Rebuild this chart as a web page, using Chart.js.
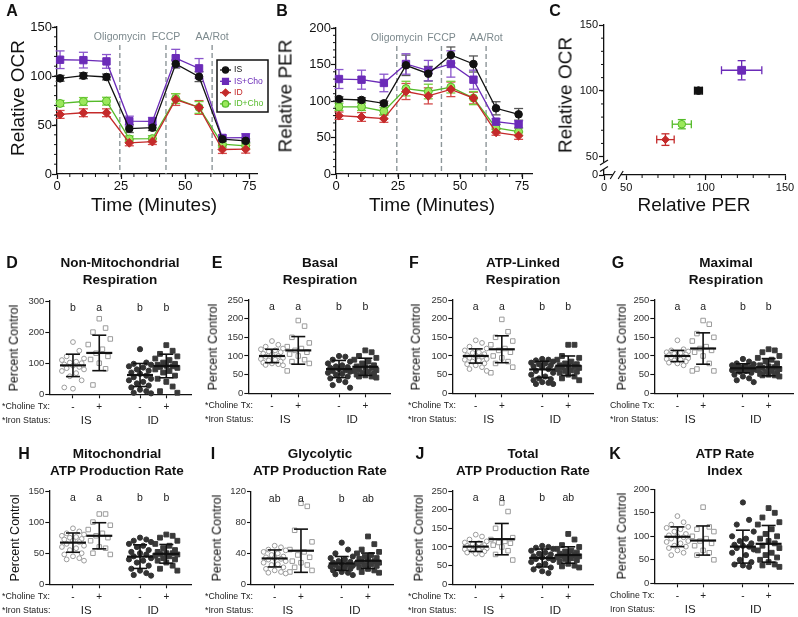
<!DOCTYPE html>
<html>
<head>
<meta charset="utf-8">
<title>Choline and iron status - respiration</title>
<script src="https://cdn.jsdelivr.net/npm/chart.js@4.4.1/dist/chart.umd.min.js"></script>
<style>
  body { margin: 0; width: 798px; height: 617px; position: relative; overflow: hidden; background: #fff;
         font-family: "Liberation Sans", Arial, sans-serif; color: #111; }
  canvas { position: absolute; }
  .txt { position: absolute; white-space: nowrap; transform: translate(-50%, -50%); line-height: 1; }
  .rot { transform: translate(-50%, -50%) rotate(-90deg); }
  .panel { font-weight: bold; font-size: 16px; }
  .title { font-weight: bold; font-size: 13.5px; }
</style>
</head>
<body>
<script>
// ---- A / B: time course
const timeMin = [1.2, 10.3, 19.3, 28.2, 37.2, 46.3, 55.4, 64.5, 73.6];
const injectionTimes = [24.5, 42.5, 60.5];
const injectionNames = ['Oligomycin', 'FCCP', 'AA/Rot'];
const groupNames = ['IS', 'IS+Cho', 'ID', 'ID+Cho'];

const ocrIS = [97.6, 100.3, 99.0, 46.3, 47.3, 112.2, 99.3, 35.5, 33.8];
const ocrISCho = [116.6, 116.2, 114.9, 54.0, 53.7, 118.2, 107.8, 36.8, 37.2];
const ocrID = [60.8, 62.5, 62.5, 31.8, 33.1, 76.0, 67.9, 25.0, 25.3];
const ocrIDCho = [72.0, 74.0, 74.3, 35.8, 36.1, 77.0, 67.9, 30.4, 28.7];
const ocrISErr = [3, 3, 3, 4, 3, 4, 5, 2, 2];
const ocrISChoErr = [9, 8, 7, 5, 4, 9, 10, 3, 4];
const ocrIDErr = [4, 4, 4, 3, 3, 6, 7, 4, 4];
const ocrIDChoErr = [3, 4, 4, 3, 3, 5, 6, 3, 3];

const perIS = [102.7, 101.4, 96.8, 148.9, 137.4, 163.0, 150.7, 90.0, 81.7];
const perISCho = [130.1, 129.2, 124.7, 150.7, 141.6, 150.7, 129.2, 71.7, 68.0];
const perID = [79.9, 78.1, 75.8, 113.0, 107.0, 116.0, 104.0, 57.1, 52.5];
const perIDCho = [92.0, 92.0, 86.0, 117.0, 113.0, 119.0, 104.0, 63.0, 58.0];
const perISErr = [3, 3, 3, 14, 10, 11, 11, 9, 8];
const perISChoErr = [13, 13, 12, 14, 14, 18, 13, 4, 5];
const perIDErr = [5, 6, 5, 11, 11, 10, 8, 4, 5];
const perIDChoErr = [5, 5, 5, 10, 10, 8, 9, 5, 5];

// ---- C: OCR vs PER (order IS, IS+Cho, ID, ID+Cho)
const ratioPER = [95.5, 122.7, 74.7, 85.0];
const ratioOCR = [100.1, 115.6, 62.9, 74.6];
const ratioPERErr = [2.5, 12.7, 5.5, 6.0];
const ratioOCRErr = [2.5, 7.3, 4.4, 3.5];

// ---- D-K: percent control, individual wells per group (IS, IS+Cho, ID, ID+Cho)
const nonMitoPoints = [
  [168, 140, 122, 115, 110, 105, 102, 100, 96, 92, 88, 84, 80, 75, 68, 58, 45, 22, 18],
  [243, 213, 200, 178, 160, 145, 132, 122, 112, 100, 82, 30],
  [145, 102, 98, 95, 90, 86, 80, 76, 70, 66, 60, 55, 50, 45, 40, 35, 28, 22, 15, 10, 5, 3],
  [158, 140, 130, 122, 115, 110, 102, 98, 95, 92, 90, 88, 85, 80, 75, 70, 60, 50, 40, 25, 10, 5],
];
const nonMitoMean = [93, 133, 62, 91];
const nonMitoSD = [36, 57, 37, 38];
const nonMitoLetters = ['b', 'a', 'b', 'b'];

const basalPoints = [
  [140, 130, 125, 120, 118, 115, 112, 110, 106, 103, 100, 98, 95, 92, 90, 88, 85, 82, 80, 78, 76, 75],
  [195, 180, 150, 135, 125, 120, 115, 110, 105, 100, 90, 85, 80, 60],
  [100, 98, 90, 85, 80, 75, 72, 70, 68, 65, 62, 60, 58, 55, 52, 50, 45, 40, 35, 30, 22, 15],
  [115, 110, 100, 95, 90, 85, 80, 75, 72, 70, 68, 65, 62, 60, 58, 55, 52, 50, 48, 45, 45, 42],
];
const basalMean = [100, 115, 65, 71];
const basalSD = [18, 37, 23, 23];
const basalLetters = ['a', 'a', 'b', 'b'];

const atpLinkedPoints = [
  [142, 135, 125, 120, 115, 110, 108, 105, 102, 100, 98, 95, 92, 90, 88, 85, 80, 78, 75, 70, 65, 60],
  [198, 165, 150, 140, 130, 120, 115, 110, 100, 95, 85, 80, 70, 55],
  [92, 90, 88, 85, 82, 80, 78, 75, 72, 70, 65, 60, 55, 50, 45, 40, 38, 35, 30, 28, 25, 25],
  [130, 130, 100, 95, 90, 85, 80, 78, 75, 73, 72, 70, 68, 65, 62, 60, 58, 55, 50, 45, 40, 35],
];
const atpLinkedMean = [100, 118, 64, 74];
const atpLinkedSD = [19, 36, 22, 26];
const atpLinkedLetters = ['a', 'a', 'b', 'b'];

const maximalPoints = [
  [142, 118, 115, 112, 110, 108, 106, 104, 102, 100, 98, 96, 94, 92, 90, 88, 85, 82, 80, 75],
  [195, 185, 160, 150, 140, 125, 120, 115, 110, 100, 80, 65, 60, 60],
  [92, 85, 80, 78, 75, 72, 70, 70, 68, 67, 66, 65, 64, 62, 60, 58, 55, 50, 45, 40, 35, 30],
  [118, 115, 110, 100, 95, 90, 85, 80, 75, 72, 70, 68, 65, 62, 60, 58, 55, 52, 50, 48, 48, 45],
];
const maximalMean = [100, 120, 67, 70];
const maximalSD = [15, 42, 12, 23];
const maximalLetters = ['a', 'a', 'b', 'b'];

const mitoAtpPoints = [
  [90, 85, 82, 80, 78, 76, 75, 73, 72, 70, 68, 65, 62, 60, 58, 55, 50, 48, 45, 42, 40, 38],
  [113, 113, 100, 95, 88, 82, 78, 75, 70, 60, 58, 50, 48],
  [75, 72, 70, 68, 65, 62, 60, 55, 52, 50, 48, 45, 42, 40, 38, 35, 30, 25, 22, 18, 15, 14],
  [80, 78, 75, 70, 65, 62, 58, 55, 52, 50, 50, 49, 48, 46, 45, 42, 40, 38, 35, 30, 25, 22],
];
const mitoAtpMean = [67, 78, 44.5, 49];
const mitoAtpSD = [15.5, 21, 19, 15];
const mitoAtpLetters = ['a', 'a', 'b', 'b'];

const glycoAtpPoints = [
  [50, 48, 45, 44, 42, 40, 38, 36, 35, 34, 33, 32, 30, 28, 26, 25, 22, 20, 18, 16, 15, 14],
  [105, 101, 70, 55, 45, 42, 38, 35, 30, 28, 25, 22, 18, 16],
  [54, 45, 40, 36, 34, 32, 30, 29, 28, 27, 26, 25, 24, 23, 22, 21, 20, 18, 16, 15, 13, 12],
  [62, 52, 45, 42, 40, 38, 36, 34, 33, 32, 30, 29, 28, 27, 26, 25, 24, 22, 20, 18, 16, 15],
];
const glycoAtpMean = [33.5, 43.5, 27, 30.5];
const glycoAtpSD = [11, 28, 9, 10];
const glycoAtpLetters = ['ab', 'a', 'b', 'ab'];

const totalAtpPoints = [
  [133, 128, 120, 115, 112, 110, 108, 105, 103, 101, 100, 98, 96, 94, 92, 90, 88, 85, 82, 80],
  [218, 195, 150, 125, 120, 115, 112, 110, 105, 100, 90, 80, 65],
  [103, 100, 98, 95, 90, 85, 82, 80, 75, 72, 70, 68, 65, 60, 55, 50, 45, 40, 35, 30],
  [135, 120, 105, 100, 95, 90, 88, 85, 82, 80, 78, 76, 75, 72, 70, 68, 65, 60, 55, 50, 48, 45],
];
const totalAtpMean = [101, 121, 70.5, 78.5];
const totalAtpSD = [13, 42, 24, 22];
const totalAtpLetters = ['a', 'a', 'b', 'ab'];

const atpIndexPoints = [
  [143, 130, 125, 120, 118, 115, 110, 105, 102, 100, 98, 95, 90, 88, 85, 80, 78, 75, 70, 65, 60],
  [162, 120, 115, 110, 100, 95, 90, 85, 80, 70, 65, 60, 50],
  [172, 135, 125, 110, 100, 95, 90, 85, 82, 80, 78, 75, 72, 65, 60, 50, 45, 40, 38, 35],
  [160, 150, 140, 130, 125, 115, 105, 100, 95, 90, 85, 80, 75, 70, 65, 60, 55, 50, 45, 40, 38, 35],
];
const atpIndexMean = [99, 91, 78, 84];
const atpIndexSD = [21, 31, 35, 39];
const atpIndexLetters = ['', '', '', ''];

const cholineSigns = ['-', '+', '-', '+'];
const ironGroups = ['IS', 'ID'];

// ---- styling / layout
const FONT = '"Liberation Sans", Arial, sans-serif';
const catX = [1, 2, 3.55, 4.55];
const swarm = [0, 0.24, -0.24, 0.42, -0.42, 0.12, -0.12, 0.33, -0.33];

const seriesStyle = [
  { color: '#111111', err: '#555555', fill: '#111111', point: 'circle', r: 3.8 },
  { color: '#6b2bb8', err: '#8a55cc', fill: '#6b2bb8', point: 'rect', r: 5.2 },
  { color: '#c42a2a', err: '#d44a4a', fill: '#c42a2a', point: 'rectRot', r: 4.4 },
  { color: '#55bb2a', err: '#78cf3c', fill: '#9be85c', point: 'circle', r: 4 },
];
const dotStyle = [
  { shape: 'circle', r: 2.4, fill: '#ffffff', stroke: '#9b9b9b' },
  { shape: 'rect', r: 3.2, fill: '#ffffff', stroke: '#9b9b9b' },
  { shape: 'circle', r: 2.6, fill: '#333333', stroke: '#333333' },
  { shape: 'rect', r: 3.4, fill: '#3a3a3a', stroke: '#3a3a3a' },
];

Chart.defaults.font.family = FONT;
Chart.defaults.color = '#111';
Chart.defaults.animation = false;
Chart.defaults.responsive = false;
Chart.defaults.devicePixelRatio = 1;
Chart.defaults.events = [];
Chart.defaults.plugins.legend.display = false;
Chart.defaults.plugins.tooltip.enabled = false;

function addText(str, x, y, cls, size) {
  const d = document.createElement('div');
  d.className = 'txt ' + (cls || '');
  d.textContent = str;
  d.style.left = x + 'px';
  d.style.top = y + 'px';
  if (size) d.style.fontSize = size + 'px';
  document.body.appendChild(d);
}

function makeCanvas(left, top, w, h) {
  const c = document.createElement('canvas');
  c.width = w;
  c.height = h;
  c.style.left = left + 'px';
  c.style.top = top + 'px';
  document.body.appendChild(c);
  return c;
}

function drawLine(ctx, x1, y1, x2, y2) {
  ctx.beginPath();
  ctx.moveTo(x1, y1);
  ctx.lineTo(x2, y2);
  ctx.stroke();
}

function axis(extra) {
  return Object.assign({
    grid: { drawOnChartArea: false, color: '#111', tickLength: 5, tickWidth: 1.2 },
    border: { color: '#111', width: 1.3 },
  }, extra);
}

const fixedTicks = (values) => (scale) => { scale.ticks = values.map((value) => ({ value })); };

// ---- plugins
const errorBars = {
  id: 'errorBars',
  beforeDatasetsDraw(chart, args, opts) {
    const { ctx } = chart;
    const xs = chart.scales.x;
    const ys = chart.scales.y;
    const cap = opts.cap || 4.5;
    chart.data.datasets.forEach((ds) => {
      if (!ds.yErr && !ds.xErr) return;
      ctx.save();
      ctx.strokeStyle = ds.errColor;
      ctx.lineWidth = 1.3;
      ds.data.forEach((p, i) => {
        const px = xs.getPixelForValue(p.x);
        const py = ys.getPixelForValue(p.y);
        if (ds.yErr) {
          const t = ys.getPixelForValue(p.y + ds.yErr[i]);
          const b = ys.getPixelForValue(p.y - ds.yErr[i]);
          drawLine(ctx, px, t, px, b);
          drawLine(ctx, px - cap, t, px + cap, t);
          drawLine(ctx, px - cap, b, px + cap, b);
        }
        if (ds.xErr) {
          const l = xs.getPixelForValue(p.x - ds.xErr[i]);
          const r = xs.getPixelForValue(p.x + ds.xErr[i]);
          drawLine(ctx, l, py, r, py);
          drawLine(ctx, l, py - cap, l, py + cap);
          drawLine(ctx, r, py - cap, r, py + cap);
        }
      });
      ctx.restore();
    });
  },
};

const injections = {
  id: 'injections',
  beforeDatasetsDraw(chart, args, opts) {
    if (!opts.times) return;
    const { ctx, chartArea } = chart;
    const xs = chart.scales.x;
    ctx.save();
    ctx.strokeStyle = '#8d9699';
    ctx.lineWidth = 1.4;
    ctx.setLineDash([5, 3]);
    ctx.fillStyle = '#7d8a8e';
    ctx.font = '10.5px ' + FONT;
    ctx.textAlign = 'center';
    ctx.textBaseline = 'middle';
    opts.times.forEach((t, i) => {
      const px = xs.getPixelForValue(t);
      drawLine(ctx, px, opts.lineTop, px, chartArea.bottom);
      ctx.fillText(opts.names[i], px, opts.labelY);
    });
    ctx.restore();
  },
};

const minorTicks = {
  id: 'minorTicks',
  afterDraw(chart, args, opts) {
    const { ctx, chartArea } = chart;
    ctx.save();
    ctx.strokeStyle = '#111';
    ctx.lineWidth = 1;
    if (opts.x) {
      const xs = chart.scales.x;
      for (let v = opts.x[0]; v <= opts.x[1] + 1e-6; v += opts.x[2]) {
        const px = xs.getPixelForValue(v);
        drawLine(ctx, px, chartArea.bottom, px, chartArea.bottom + 3);
      }
    }
    if (opts.y) {
      const ys = chart.scales.y;
      for (let v = opts.y[0]; v <= opts.y[1] + 1e-6; v += opts.y[2]) {
        const py = ys.getPixelForValue(v);
        drawLine(ctx, chartArea.left - 3, py, chartArea.left, py);
      }
    }
    ctx.restore();
  },
};

const axisBreaks = {
  id: 'axisBreaks',
  afterDraw(chart, args, opts) {
    if (!opts.x) return;
    const { ctx, chartArea } = chart;
    const xs = chart.scales.x;
    const ys = chart.scales.y;
    ctx.save();
    ctx.fillStyle = '#fff';
    ctx.strokeStyle = '#111';
    ctx.lineWidth = 1.2;
    const x1 = xs.getPixelForValue(opts.x[0]);
    const x2 = xs.getPixelForValue(opts.x[1]);
    ctx.fillRect(x1, chartArea.bottom - 2, x2 - x1, 4);
    [x1, x2].forEach((px) => drawLine(ctx, px - 2.5, chartArea.bottom + 4, px + 2.5, chartArea.bottom - 4));
    const y1 = ys.getPixelForValue(opts.y[0]);
    const y2 = ys.getPixelForValue(opts.y[1]);
    ctx.fillRect(chartArea.left - 2, y2, 4, y1 - y2);
    [y1, y2].forEach((py) => drawLine(ctx, chartArea.left - 4, py + 2.5, chartArea.left + 4, py - 2.5));
    ctx.restore();
  },
};

const legendBox = {
  id: 'legendBox',
  afterDraw(chart, args, opts) {
    if (!opts.box) return;
    const { ctx } = chart;
    const [bx, by, bw, bh] = opts.box;
    ctx.save();
    ctx.fillStyle = '#fff';
    ctx.fillRect(bx, by, bw, bh);
    ctx.strokeStyle = '#111';
    ctx.lineWidth = 1.5;
    ctx.strokeRect(bx, by, bw, bh);
    ctx.font = '8.6px ' + FONT;
    ctx.textBaseline = 'middle';
    chart.data.datasets.forEach((ds, i) => {
      const yy = by + 10 + i * 11.3;
      ctx.strokeStyle = ds.borderColor;
      ctx.lineWidth = 1.3;
      drawLine(ctx, bx + 3, yy, bx + 14, yy);
      ctx.fillStyle = ds.backgroundColor;
      ctx.strokeStyle = ds.pointBorderColor;
      Chart.helpers.drawPoint(ctx, { pointStyle: ds.pointStyle, rotation: 0, radius: ds.pointRadius * 0.8, borderWidth: 1 }, bx + 8.5, yy);
      ctx.fillStyle = ds.borderColor;
      ctx.fillText(ds.label, bx + 17, yy);
    });
    ctx.restore();
  },
};

const groupStats = {
  id: 'groupStats',
  afterDatasetsDraw(chart, args, opts) {
    if (!opts.means) return;
    const { ctx, chartArea } = chart;
    const xs = chart.scales.x;
    const ys = chart.scales.y;
    ctx.save();
    ctx.strokeStyle = '#111';
    opts.means.forEach((m, i) => {
      const px = xs.getPixelForValue(catX[i]);
      const my = ys.getPixelForValue(m);
      const t = ys.getPixelForValue(m + opts.sds[i]);
      const b = ys.getPixelForValue(m - opts.sds[i]);
      ctx.lineWidth = 2.2;
      drawLine(ctx, px - 13, my, px + 13, my);
      ctx.lineWidth = 1.6;
      drawLine(ctx, px, t, px, b);
      drawLine(ctx, px - 7, t, px + 7, t);
      drawLine(ctx, px - 7, b, px + 7, b);
    });
    ctx.fillStyle = '#222';
    ctx.textAlign = 'center';
    ctx.textBaseline = 'middle';
    ctx.font = '10.5px ' + FONT;
    opts.letters.forEach((s, i) => ctx.fillText(s, xs.getPixelForValue(catX[i]), chartArea.top + 7));
    const r1 = chartArea.bottom + 12.5;
    const r2 = chartArea.bottom + 26.5;
    ctx.font = '10px ' + FONT;
    cholineSigns.forEach((s, i) => ctx.fillText(s, xs.getPixelForValue(catX[i]), r1));
    ctx.font = '11.5px ' + FONT;
    ironGroups.forEach((s, i) => {
      const mid = (catX[2 * i] + catX[2 * i + 1]) / 2;
      ctx.fillText(s, xs.getPixelForValue(mid), r2);
    });
    ctx.textAlign = 'left';
    ctx.font = '8.8px ' + FONT;
    ctx.fillText(opts.tags[0], opts.tagX, r1);
    ctx.fillText(opts.tags[1], opts.tagX, r2);
    ctx.restore();
  },
};

Chart.register(errorBars, injections, minorTicks, axisBreaks, legendBox, groupStats);

// ---- A and B
function timeSeries(values, errors) {
  return values.map((v, g) => ({
    label: groupNames[g],
    data: timeMin.map((t, i) => ({ x: t, y: v[i] })),
    yErr: errors[g],
    errColor: seriesStyle[g].err,
    borderColor: seriesStyle[g].color,
    backgroundColor: seriesStyle[g].fill,
    pointBorderColor: seriesStyle[g].color,
    pointBackgroundColor: seriesStyle[g].fill,
    pointStyle: seriesStyle[g].point,
    pointRadius: seriesStyle[g].r,
    pointBorderWidth: 1,
    borderWidth: 1.3,
    tension: 0,
    clip: false,
  }));
}

function timePanel(cfg) {
  const c = makeCanvas(cfg.cx, 0, cfg.cw, 200);
  new Chart(c, {
    type: 'line',
    data: { datasets: timeSeries(cfg.values, cfg.errors) },
    options: {
      layout: { padding: { top: cfg.padTop, right: cfg.padRight, left: 0, bottom: 0 } },
      scales: {
        x: axis({
          type: 'linear', min: 0, max: cfg.xMax,
          afterBuildTicks: fixedTicks([0, 25, 50, 75]),
          afterFit: (s) => { s.height = cfg.xH; },
          ticks: { font: { size: 13 }, padding: 0, maxRotation: 0 },
        }),
        y: axis({
          min: 0, max: cfg.yMax,
          afterFit: (s) => { s.width = cfg.yW; },
          ticks: { stepSize: 50, font: { size: 13 }, padding: 0 },
        }),
      },
      plugins: {
        errorBars: { cap: 4.5 },
        injections: { times: injectionTimes, names: injectionNames, lineTop: cfg.lineTop, labelY: cfg.labelY },
        minorTicks: { x: [5, 75, 5], y: [10, cfg.yMax, 10] },
        legendBox: cfg.legend ? { box: cfg.legend } : {},
      },
    },
  });
}

timePanel({
  cx: 0, cw: 275, padTop: 27, padRight: 18, xH: 26, yW: 57, xMax: 78, yMax: 150,
  values: [ocrIS, ocrISCho, ocrID, ocrIDCho],
  errors: [ocrISErr, ocrISChoErr, ocrIDErr, ocrIDChoErr],
  lineTop: 45, labelY: 37, legend: [217, 60, 51, 52],
});
timePanel({
  cx: 270, cw: 270, padTop: 28, padRight: 8, xH: 26, yW: 66, xMax: 79, yMax: 200,
  values: [perIS, perISCho, perID, perIDCho],
  errors: [perISErr, perISChoErr, perIDErr, perIDChoErr],
  lineTop: 46, labelY: 38,
});

// ---- C
const canvasC = makeCanvas(540, 0, 258, 200);
new Chart(canvasC, {
  type: 'scatter',
  data: {
    datasets: ratioPER.map((px, g) => ({
      label: groupNames[g],
      data: [{ x: px, y: ratioOCR[g] }],
      xErr: [ratioPERErr[g]],
      yErr: [ratioOCRErr[g]],
      errColor: seriesStyle[g].color,
      backgroundColor: seriesStyle[g].fill,
      borderColor: seriesStyle[g].color,
      pointStyle: seriesStyle[g].point,
      pointRadius: g === 1 ? 5.5 : 3.8,
      pointBorderWidth: 1,
      clip: false,
    })),
  },
  options: {
    layout: { padding: { top: 25, right: 13, left: 0, bottom: 0 } },
    scales: {
      x: axis({
        type: 'linear', min: 36, max: 150,
        afterBuildTicks: fixedTicks([36, 50, 100, 150]),
        afterFit: (s) => { s.height = 25; },
        ticks: { font: { size: 11 }, padding: 1, maxRotation: 0, callback: (v) => (v === 36 ? '0' : v) },
      }),
      y: axis({
        min: 36, max: 150,
        afterBuildTicks: fixedTicks([36, 50, 100, 150]),
        afterFit: (s) => { s.width = 64; },
        ticks: { font: { size: 11 }, padding: 1, callback: (v) => (v === 36 ? '0' : v) },
      }),
    },
    plugins: {
      errorBars: { cap: 4 },
      minorTicks: { x: [60, 140, 10], y: [60, 140, 10] },
      axisBreaks: { x: [41.5, 46.5], y: [40.5, 45.5] },
    },
  },
});

// ---- D-K
const dotPanels = [
  { letter: 'D', title: ['Non-Mitochondrial', 'Respiration'], titleX: 120, cx: 0, cw: 198, left: 49.3, top: 301, bottom: 394.3, yMax: 300, yStep: 100, points: nonMitoPoints, mean: nonMitoMean, sd: nonMitoSD, letters: nonMitoLetters, tags: ['*Choline Tx:', '*Iron Status:'], tagX: 2, letterX: 12, ytX: 14 },
  { letter: 'E', title: ['Basal', 'Respiration'], titleX: 320, cx: 198, cw: 200, left: 248.3, top: 300, bottom: 393.3, yMax: 250, yStep: 50, points: basalPoints, mean: basalMean, sd: basalSD, letters: basalLetters, tags: ['*Choline Tx:', '*Iron Status:'], tagX: 205, letterX: 217, ytX: 213 },
  { letter: 'F', title: ['ATP-Linked', 'Respiration'], titleX: 523, cx: 398, cw: 200, left: 452.3, top: 300, bottom: 393.3, yMax: 250, yStep: 50, points: atpLinkedPoints, mean: atpLinkedMean, sd: atpLinkedSD, letters: atpLinkedLetters, tags: ['*Choline Tx:', '*Iron Status:'], tagX: 408, letterX: 414, ytX: 416 },
  { letter: 'G', title: ['Maximal', 'Respiration'], titleX: 726, cx: 598, cw: 200, left: 654.3, top: 300, bottom: 393.3, yMax: 250, yStep: 50, points: maximalPoints, mean: maximalMean, sd: maximalSD, letters: maximalLetters, tags: ['Choline Tx:', '*Iron Status:'], tagX: 610, letterX: 618, ytX: 622 },
  { letter: 'H', title: ['Mitochondrial', 'ATP Production Rate'], titleX: 117, cx: 0, cw: 198, left: 49.3, top: 491, bottom: 584.3, yMax: 150, yStep: 50, points: mitoAtpPoints, mean: mitoAtpMean, sd: mitoAtpSD, letters: mitoAtpLetters, tags: ['*Choline Tx:', '*Iron Status:'], tagX: 2, letterX: 24, ytX: 15 },
  { letter: 'I', title: ['Glycolytic', 'ATP Production Rate'], titleX: 320, cx: 198, cw: 200, left: 251, top: 491.7, bottom: 584.3, yMax: 120, yStep: 40, points: glycoAtpPoints, mean: glycoAtpMean, sd: glycoAtpSD, letters: glycoAtpLetters, tags: ['*Choline Tx:', '*Iron Status:'], tagX: 205, letterX: 213, ytX: 217 },
  { letter: 'J', title: ['Total', 'ATP Production Rate'], titleX: 523, cx: 398, cw: 200, left: 452.3, top: 491, bottom: 584.3, yMax: 250, yStep: 50, points: totalAtpPoints, mean: totalAtpMean, sd: totalAtpSD, letters: totalAtpLetters, tags: ['*Choline Tx:', '*Iron Status:'], tagX: 408, letterX: 420, ytX: 419 },
  { letter: 'K', title: ['ATP Rate', 'Index'], titleX: 725, cx: 598, cw: 200, left: 654.3, top: 489.3, bottom: 583.3, yMax: 200, yStep: 50, points: atpIndexPoints, mean: atpIndexMean, sd: atpIndexSD, letters: atpIndexLetters, tags: ['Choline Tx:', 'Iron Status:'], tagX: 610, letterX: 615, ytX: 622 },
];

dotPanels.forEach((p) => {
  const row2 = p.top < 400;
  const cy = row2 ? 250 : 440;
  const ch = row2 ? 180 : 177;
  const right = p.left + 142;
  const c = makeCanvas(p.cx, cy, p.cw, ch);
  new Chart(c, {
    type: 'scatter',
    data: {
      datasets: p.points.map((vals, g) => ({
        data: vals.map((v, i) => ({ x: catX[g] + swarm[i % swarm.length], y: v })),
        pointStyle: dotStyle[g].shape,
        pointRadius: dotStyle[g].r,
        backgroundColor: dotStyle[g].fill,
        borderColor: dotStyle[g].stroke,
        pointBorderWidth: 1,
        clip: false,
      })),
    },
    options: {
      layout: { padding: { top: p.top - cy, right: p.cx + p.cw - right, left: 0, bottom: 0 } },
      scales: {
        x: axis({
          type: 'linear', min: 0.1, max: 5.5,
          afterBuildTicks: fixedTicks(catX),
          afterFit: (s) => { s.height = cy + ch - p.bottom; },
          ticks: { display: false },
          grid: { drawOnChartArea: false, color: '#111', tickLength: 4, tickWidth: 1.1 },
        }),
        y: axis({
          min: 0, max: p.yMax,
          afterFit: (s) => { s.width = p.left - p.cx; },
          ticks: { stepSize: p.yStep, font: { size: 9.5 }, color: '#333', padding: 1 },
          grid: { drawOnChartArea: false, color: '#111', tickLength: 4, tickWidth: 1.1 },
        }),
      },
      plugins: {
        groupStats: { means: p.mean, sds: p.sd, letters: p.letters, tags: p.tags, tagX: p.tagX - p.cx },
      },
    },
  });
  const ty = row2 ? [263, 279.5] : [453.5, 471];
  addText(p.letter, p.letterX, ty[0], 'panel');
  addText(p.title[0], p.titleX, ty[0], 'title');
  addText(p.title[1], p.titleX, ty[1], 'title');
  addText('Percent Control', p.ytX, (p.top + p.bottom) / 2, 'rot', 12.5);
});

// ---- top-row labels
addText('A', 12, 11, 'panel');
addText('B', 282, 11, 'panel');
addText('C', 555, 11, 'panel');
addText('Relative OCR', 17, 98, 'rot', 19);
addText('Relative PER', 285, 96, 'rot', 19);
addText('Relative OCR', 565, 95, 'rot', 19);
addText('Time (Minutes)', 154, 204, '', 19);
addText('Time (Minutes)', 432, 204, '', 19);
addText('Relative PER', 694, 204, '', 19);
</script>
</body>
</html>
